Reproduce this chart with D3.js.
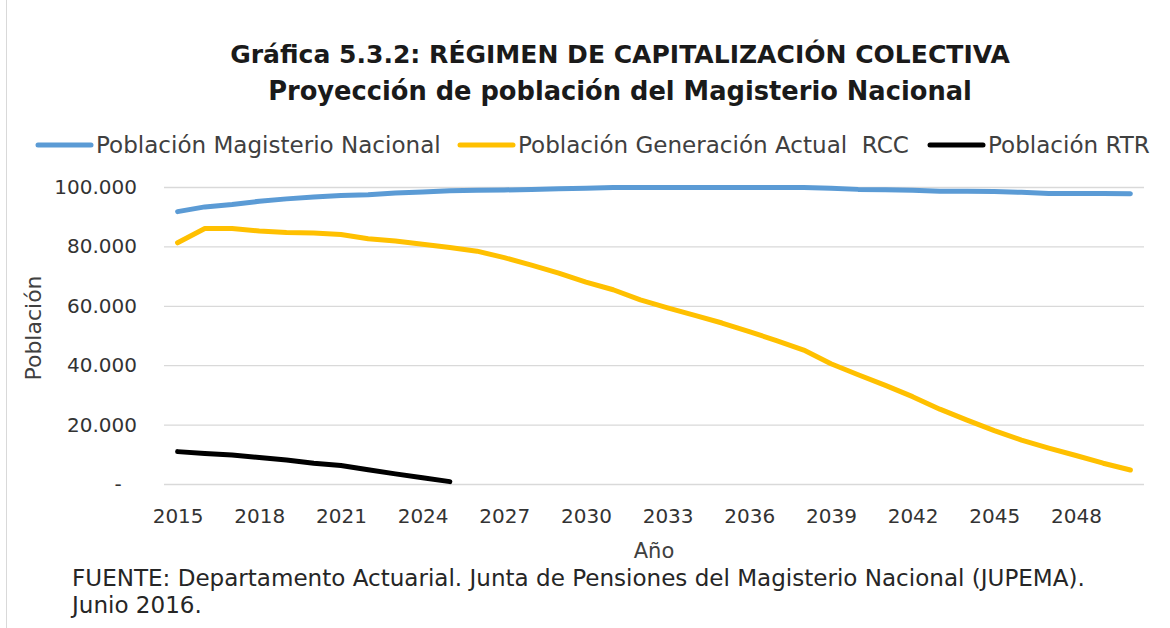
<!DOCTYPE html>
<html>
<head>
<meta charset="utf-8">
<script src="https://cdn.jsdelivr.net/npm/d3@7"></script>
<style>
  body { margin: 0; background: #fff; overflow: hidden; }
  text { font-family: "DejaVu Sans", sans-serif; }
</style>
</head>
<body>
<div id="chart"></div>
<script>
// years on the x axis
const years = [2015, 2016, 2017, 2018, 2019, 2020, 2021, 2022, 2023, 2024, 2025, 2026,
  2027, 2028, 2029, 2030, 2031, 2032, 2033, 2034, 2035, 2036, 2037, 2038,
  2039, 2040, 2041, 2042, 2043, 2044, 2045, 2046, 2047, 2048, 2049, 2050];

// Población Magisterio Nacional
const magisterio = [91700, 93300, 94100, 95200, 96000, 96600, 97100, 97400, 98000, 98300, 98700, 98900,
  99000, 99200, 99400, 99600, 99800, 99800, 99800, 99800, 99800, 99800, 99800, 99800,
  99600, 99200, 99100, 98900, 98600, 98600, 98500, 98200, 97800, 97800, 97800, 97700];

// Población Generación Actual RCC
const generacion = [81200, 86000, 86000, 85200, 84700, 84500, 84000, 82600, 81800, 80700, 79600, 78400,
  76200, 73700, 71000, 68000, 65400, 62000, 59300, 56800, 54200, 51300, 48300, 45100,
  40500, 36800, 33200, 29400, 25200, 21500, 18000, 14800, 12100, 9600, 7000, 4700];

// Población RTR (only until 2025)
const rtr = [10900, 10300, 9800, 8900, 8100, 7000, 6200, 4800, 3400, 2100, 800];

const yTicks = [0, 20000, 40000, 60000, 80000, 100000];
const xTickYears = [2015, 2018, 2021, 2024, 2027, 2030, 2033, 2036, 2039, 2042, 2045, 2048];

const seriesNames = ["Población Magisterio Nacional", "Población Generación Actual  RCC", "Población RTR"];
const seriesColors = ["#5b9bd5", "#ffc000", "#000000"];
const seriesValues = [magisterio, generacion, rtr];

const width = 1170, height = 628;
const plot = {left: 164, right: 1144, top: 187, bottom: 484};
const legendX = [38, 460, 930];

const svg = d3.select("#chart").append("svg")
    .attr("width", width)
    .attr("height", height);

// chart frame edge on the left
svg.append("line")
    .attr("x1", 6.5).attr("x2", 6.5)
    .attr("y1", 0).attr("y2", height)
    .attr("stroke", "#d9d9d9");

const x = d3.scalePoint()
    .domain(years)
    .range([plot.left, plot.right])
    .padding(0.5);

const y = d3.scaleLinear()
    .domain([0, 100000])
    .range([plot.bottom, plot.top]);

// grid lines
svg.append("g")
    .attr("transform", `translate(${plot.left},0)`)
    .call(d3.axisLeft(y).tickValues(yTicks).tickSize(-(plot.right - plot.left)).tickFormat(""))
    .call(g => g.select(".domain").remove())
    .call(g => g.selectAll("line").attr("stroke", "#d9d9d9").attr("stroke-width", 1.3));

// y labels
const fmt = v => v === 0 ? "-" : d3.format(",")(v).replace(/,/g, ".");
const yAxis = svg.append("g")
    .attr("transform", `translate(137,0)`)
    .call(d3.axisLeft(y).tickValues(yTicks).tickSize(0).tickPadding(0).tickFormat(fmt))
    .call(g => g.select(".domain").remove());
yAxis.selectAll("text")
    .attr("font-family", "DejaVu Sans")
    .attr("font-size", 20)
    .attr("fill", "#333")
    .attr("text-anchor", d => d === 0 ? "middle" : "end")
    .attr("x", d => d === 0 ? -19 : 0);

// x labels
const xAxis = svg.append("g")
    .attr("transform", `translate(0,${plot.bottom})`)
    .call(d3.axisBottom(x).tickValues(xTickYears).tickSize(0))
    .call(g => g.select(".domain").remove());
xAxis.selectAll("text")
    .attr("font-family", "DejaVu Sans")
    .attr("font-size", 20)
    .attr("fill", "#333")
    .attr("dy", null)
    .attr("y", 39);

// lines
const line = d3.line()
    .x((d, i) => x(years[i]))
    .y(d => y(d));

seriesValues.forEach((vals, i) => {
    svg.append("path")
        .datum(vals)
        .attr("fill", "none")
        .attr("stroke", seriesColors[i])
        .attr("stroke-width", 5)
        .attr("stroke-linejoin", "round")
        .attr("stroke-linecap", "round")
        .attr("d", line);
});

// shrink / grow a text to a given width keeping its proportions
function fitWidth(sel, target) {
    const w = sel.node().getComputedTextLength();
    const fs = +sel.attr("font-size");
    sel.attr("font-size", fs * target / w);
}

// title
const t1 = svg.append("text")
    .attr("x", 620).attr("y", 63)
    .attr("text-anchor", "middle")
    .attr("font-weight", "bold")
    .attr("font-size", 24)
    .attr("fill", "#1a1a1a")
    .text("Gráfica 5.3.2: RÉGIMEN DE CAPITALIZACIÓN COLECTIVA");
fitWidth(t1, 780);
const t2 = svg.append("text")
    .attr("x", 620).attr("y", 100)
    .attr("text-anchor", "middle")
    .attr("font-weight", "bold")
    .attr("font-size", 24)
    .attr("fill", "#1a1a1a")
    .text("Proyección de población del Magisterio Nacional");
fitWidth(t2, 704);

// legend
let legendSize = 22.5;
seriesNames.forEach((name, i) => {
    const lx = legendX[i];
    svg.append("line")
        .attr("x1", lx).attr("x2", lx + 53)
        .attr("y1", 145).attr("y2", 145)
        .attr("stroke", seriesColors[i])
        .attr("stroke-width", 5)
        .attr("stroke-linecap", "round");
    const t = svg.append("text")
        .attr("x", lx + 58).attr("y", 153)
        .attr("font-size", legendSize)
        .attr("fill", "#404040")
        .style("white-space", "pre")
        .text(name);
    if (i === 0) {
        fitWidth(t, 345);
        legendSize = +t.attr("font-size");
    }
});

// axis titles
svg.append("text")
    .attr("transform", "translate(41,328) rotate(-90)")
    .attr("text-anchor", "middle")
    .attr("font-size", 22)
    .attr("fill", "#404040")
    .text("Población");

svg.append("text")
    .attr("x", 654).attr("y", 558)
    .attr("text-anchor", "middle")
    .attr("font-size", 21)
    .attr("fill", "#404040")
    .text("Año");

// source note
const f1 = svg.append("text")
    .attr("x", 72).attr("y", 586)
    .attr("font-size", 20)
    .attr("fill", "#262626")
    .text("FUENTE: Departamento Actuarial. Junta de Pensiones del Magisterio Nacional (JUPEMA).");
fitWidth(f1, 1013);
svg.append("text")
    .attr("x", 72).attr("y", 613)
    .attr("font-size", f1.attr("font-size"))
    .attr("fill", "#262626")
    .text("Junio 2016.");
</script>
</body>
</html>
